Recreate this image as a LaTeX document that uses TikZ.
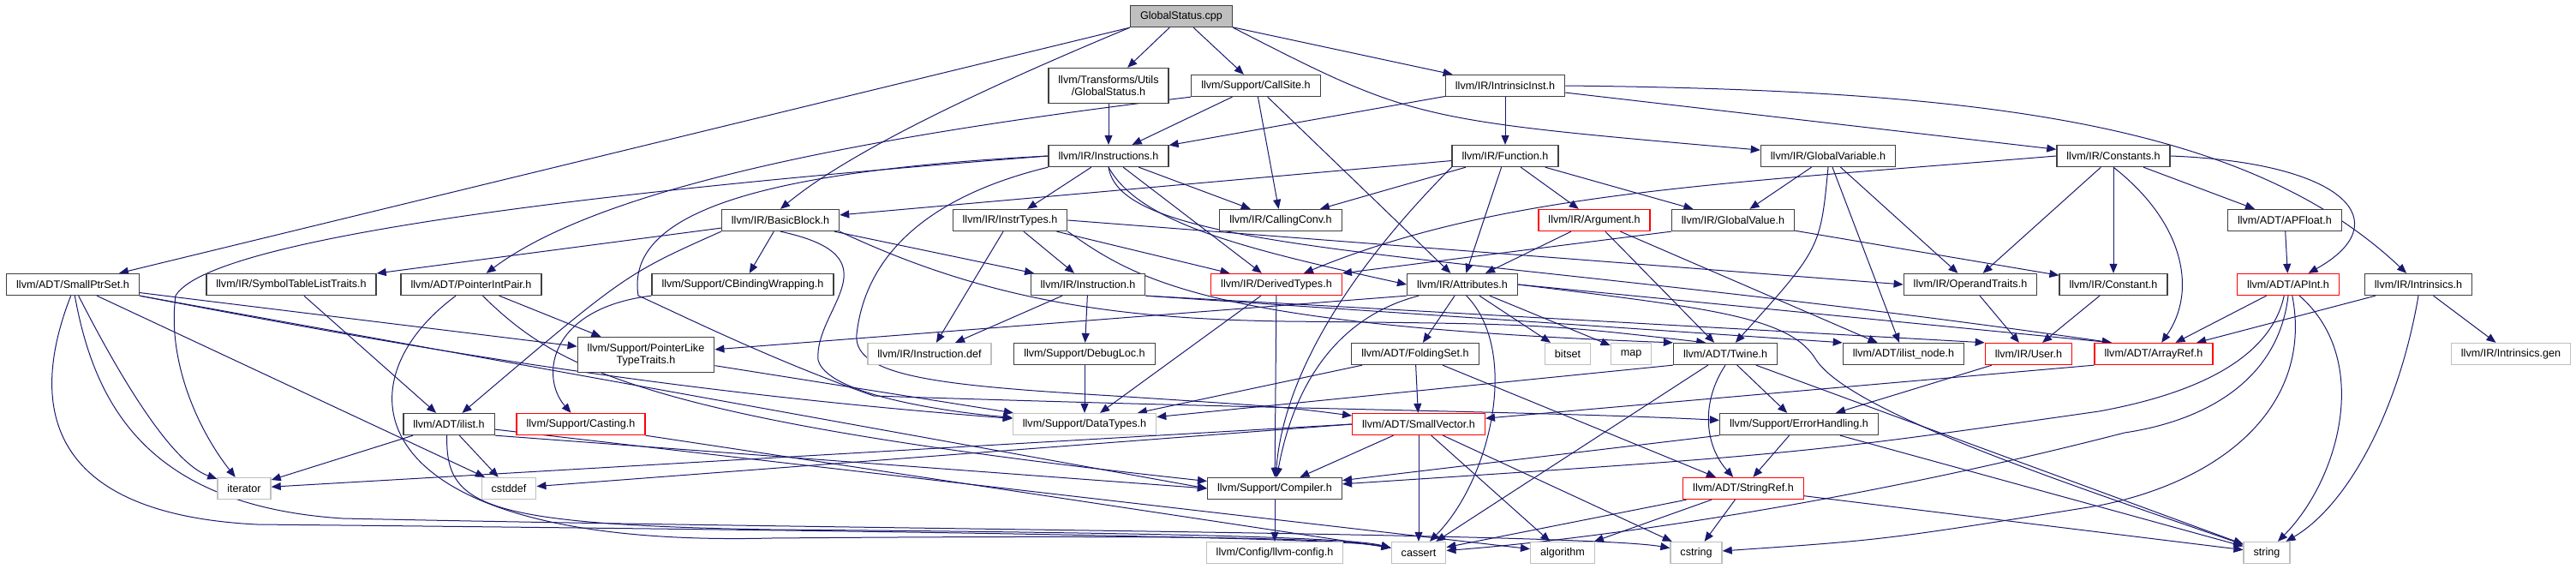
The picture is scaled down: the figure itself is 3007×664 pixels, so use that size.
\documentclass[tikz,border=0pt]{standalone}
\usepackage{fontspec}
\setmainfont{Liberation Sans}
\usepackage{tikz}
\usetikzlibrary{arrows.meta, backgrounds}
\definecolor{EdgeNavy}{RGB}{25,25,112}
\definecolor{BoxGray}{RGB}{191,191,191}
\definecolor{BoxRed}{RGB}{255,0,0}
\definecolor{BoxDark}{RGB}{64,64,64}

\begin{document}
\begin{tikzpicture}[x=1pt, y=-1pt, font=\fontsize{12.6}{14}\selectfont,
	hb/.style={rectangle, draw=BoxDark, line width=1.3pt, fill=white, inner xsep=11.5pt, inner ysep=0pt, minimum height=25pt, align=center},
	hr/.style={hb, draw=BoxRed},
	hs/.style={hb, draw=BoxGray},
	rt/.style={hb, fill=BoxGray},
	fl/.style={-{Triangle[length=11pt, width=9pt]}, draw=EdgeNavy, line width=1pt}]

	\useasboundingbox (0,0) rectangle (3007,664);

	\node[rt] (cpp) at (1379,19) {GlobalStatus.cpp};
	\node[hb, minimum height=41pt] (gsh) at (1294,100) {llvm/Transforms/Utils\\/GlobalStatus.h};
	\node[hb] (csite) at (1466,100) {llvm/Support/CallSite.h};
	\node[hb] (iinst) at (1757,100) {llvm/IR/IntrinsicInst.h};
	\node[hb] (instrs) at (1294,182) {llvm/IR/Instructions.h};
	\node[hb] (func) at (1757,182) {llvm/IR/Function.h};
	\node[hb] (gvar) at (2134,182) {llvm/IR/GlobalVariable.h};
	\node[hb] (consts) at (2467,182) {llvm/IR/Constants.h};
	\node[hb] (bb) at (911,257) {llvm/IR/BasicBlock.h};
	\node[hb] (itypes) at (1179,257) {llvm/IR/InstrTypes.h};
	\node[hb] (cconv) at (1495,257) {llvm/IR/CallingConv.h};
	\node[hr] (arg) at (1861,257) {llvm/IR/Argument.h};
	\node[hb] (gval) at (2023,257) {llvm/IR/GlobalValue.h};
	\node[hb] (apf) at (2667,257) {llvm/ADT/APFloat.h};
	\node[hb] (sps) at (85,332) {llvm/ADT/SmallPtrSet.h};
	\node[hb] (stlt) at (340,332) {llvm/IR/SymbolTableListTraits.h};
	\node[hb] (pip) at (550,332) {llvm/ADT/PointerIntPair.h};
	\node[hb] (cbw) at (867,332) {llvm/Support/CBindingWrapping.h};
	\node[hb] (inst) at (1270,332) {llvm/IR/Instruction.h};
	\node[hr] (dty) at (1490,332) {llvm/IR/DerivedTypes.h};
	\node[hb] (attr) at (1707,332) {llvm/IR/Attributes.h};
	\node[hb] (optr) at (2300,332) {llvm/IR/OperandTraits.h};
	\node[hb] (cnst) at (2467,332) {llvm/IR/Constant.h};
	\node[hr] (apint) at (2671,332) {llvm/ADT/APInt.h};
	\node[hb] (intr) at (2823,332) {llvm/IR/Intrinsics.h};
	\node[hb, minimum height=41pt] (plt) at (754,414) {llvm/Support/PointerLike\\TypeTraits.h};
	\node[hs] (idef) at (1085,413) {llvm/IR/Instruction.def};
	\node[hb] (dloc) at (1266,413) {llvm/Support/DebugLoc.h};
	\node[hb] (fset) at (1652,413) {llvm/ADT/FoldingSet.h};
	\node[hs] (bitset) at (1830,413) {bitset};
	\node[hs] (map) at (1904,413) {map};
	\node[hb] (twine) at (2014,413) {llvm/ADT/Twine.h};
	\node[hb] (inode) at (2222,413) {llvm/ADT/ilist\_node.h};
	\node[hr] (user) at (2368,413) {llvm/IR/User.h};
	\node[hr] (aref) at (2514,413) {llvm/ADT/ArrayRef.h};
	\node[hs] (igen) at (2931,413) {llvm/IR/Intrinsics.gen};
	\node[hb] (ilist) at (524,495) {llvm/ADT/ilist.h};
	\node[hr] (cast) at (678,495) {llvm/Support/Casting.h};
	\node[hs] (dtypes) at (1266,495) {llvm/Support/DataTypes.h};
	\node[hr] (svec) at (1656,495) {llvm/ADT/SmallVector.h};
	\node[hb] (eh) at (2100,495) {llvm/Support/ErrorHandling.h};
	\node[hs] (iter) at (285,570) {iterator};
	\node[hs] (cstddef) at (594,570) {cstddef};
	\node[hb] (comp) at (1488,570) {llvm/Support/Compiler.h};
	\node[hr] (sref) at (2035,570) {llvm/ADT/StringRef.h};
	\node[hs] (lcfg) at (1488,645) {llvm/Config/llvm-config.h};
	\node[hs] (cassert) at (1656,645) {cassert};
	\node[hs] (algo) at (1824,645) {algorithm};
	\node[hs] (cstring) at (1980,645) {cstring};
	\node[hs] (string) at (2646,645) {string};

	\begin{scope}[on background layer]
	\draw[fl] (cpp.south west)--(sps); \draw[fl] (cpp.south west) .. controls (1180,90) and (1000,170) .. (bb.north);
	\draw[fl] (cpp)--(gsh); \draw[fl] (cpp)--(csite); \draw[fl] (cpp)--(iinst);
	\draw[fl] (cpp.south east) .. controls (1650,140) .. (gvar);
	\draw[fl] (gsh)--(instrs);
	\draw[fl] (csite)--(instrs); \draw[fl] (csite)--(cconv); \draw[fl] (csite)--(attr);
	\draw[fl] (csite.south west) .. controls (1000,160) and (700,220) .. (pip);
	\draw[fl] (iinst)--(instrs); \draw[fl] (iinst)--(func); \draw[fl] (iinst)--(consts);
	\draw[fl] (iinst.east) .. controls (2300,105) and (2620,140) .. (intr);

	\draw[fl] (instrs)--(itypes); \draw[fl] (instrs)--(cconv); \draw[fl] (instrs)--(dty);
	\draw[fl] (instrs.south) .. controls (1330,260) and (1450,290) .. (attr.west);
	\draw[fl] (instrs.south) .. controls (1310,300) and (1700,290) .. (aref.165);
	\draw[fl] (instrs.west) .. controls (800,215) and (250,270) .. (205,345) .. controls (195,420) and (230,500) .. (iter);
	\draw[fl] (instrs.south west) .. controls (1080,230) and (1010,300) .. (1000,390) .. controls (995,440) and (1100,450) .. (1300,462) .. controls (1500,475) .. (svec);
	\draw[fl] (instrs.west) .. controls (880,200) and (730,250) .. (745,345) .. controls (790,365) and (900,420) .. (1020,462) .. controls (1500,478) and (1800,480) .. (eh);

	\draw[fl] (itypes)--(inst); \draw[fl] (itypes)--(idef); \draw[fl] (itypes)--(dty); \draw[fl] (itypes.east)--(optr.west);
	\draw[fl] (itypes.south east) .. controls (1330,330) and (1420,380) .. (twine.north west);
	\draw[fl] (inst)--(idef); \draw[fl] (inst)--(dloc);
	\draw[fl] (inst.south east)--(inode.north west); \draw[fl] (inst.south east)--(user.north west);

	\draw[fl] (bb)--(stlt); \draw[fl] (bb)--(cbw); \draw[fl] (bb)--(inst);
	\draw[fl] (bb.south west) .. controls (730,320) .. (ilist);
	\draw[fl] (bb.south east) .. controls (1150,350) and (1300,372) .. (1500,375) .. controls (1800,378) .. (twine.150);
	\draw[fl] (bb.south) .. controls (1050,300) and (950,360) .. (955,420) .. controls (965,460) and (1100,480) .. (dtypes);

	\draw[fl] (func)--(bb); \draw[fl] (func)--(cconv); \draw[fl] (func)--(attr); \draw[fl] (func)--(arg); \draw[fl] (func)--(gval);
	\draw[fl] (func.south west) .. controls (1600,290) and (1500,420) .. (comp);
	\draw[fl] (arg)--(attr); \draw[fl] (arg)--(twine); \draw[fl] (arg)--(inode);
	\draw[fl] (gvar)--(gval); \draw[fl] (gvar)--(optr); \draw[fl] (gvar)--(inode);
	\draw[fl] (gvar.south) .. controls (2125,290) .. (twine);
	\draw[fl] (gval.south west)--(dty.north east); \draw[fl] (gval)--(cnst);

	\draw[fl] (consts.west) .. controls (2000,215) and (1750,225) .. (dty);
	\draw[fl] (consts)--(optr); \draw[fl] (consts)--(cnst); \draw[fl] (consts)--(apf);
	\draw[fl] (consts.south) .. controls (2550,260) and (2565,340) .. (aref);
	\draw[fl] (consts.east) .. controls (2740,190) and (2800,260) .. (apint);
	\draw[fl] (apf)--(apint);
	\draw[fl] (apint)--(aref);
	\draw[fl] (apint.-110) .. controls (2650,420) and (2560,460) .. (2450,480) .. controls (2100,530) .. (comp);
	\draw[fl] (apint.-90) .. controls (2660,440) and (2580,490) .. (2480,505) .. controls (2150,590) and (1850,630) .. (cassert);
	\draw[fl] (apint.-70) .. controls (2700,470) and (2600,560) .. (2450,590) .. controls (2200,630) .. (cstring);
	\draw[fl] (apint.-45) .. controls (2770,420) and (2730,560) .. (string);
	\draw[fl] (intr)--(aref); \draw[fl] (intr)--(igen);
	\draw[fl] (intr.south) .. controls (2800,480) and (2740,590) .. (string);

	\draw[fl] (cnst)--(user); \draw[fl] (optr)--(user); \draw[fl] (user)--(eh);
	\draw[fl] (aref.south west)--(svec);
	\draw[fl] (twine.south west)--(dtypes); \draw[fl] (twine)--(cassert); \draw[fl] (twine)--(eh); \draw[fl] (twine)--(string);
	\draw[fl] (twine.south) .. controls (1985,470) and (1990,520) .. (sref);
	\draw[fl] (eh)--(sref); \draw[fl] (eh)--(string); \draw[fl] (eh.south west)--(comp);
	\draw[fl] (sref)--(cstring); \draw[fl] (sref)--(algo); \draw[fl] (sref)--(cassert); \draw[fl] (sref)--(string);
	\draw[fl] (svec)--(comp); \draw[fl] (svec)--(cassert); \draw[fl] (svec)--(algo); \draw[fl] (svec)--(cstring);
	\draw[fl] (svec.west)--(cstddef); \draw[fl] (svec.west)--(iter);
	\draw[fl] (fset)--(svec); \draw[fl] (fset)--(dtypes); \draw[fl] (fset)--(sref);

	\draw[fl] (attr)--(fset); \draw[fl] (attr)--(bitset); \draw[fl] (attr)--(map);
	\draw[fl] (attr.south west)--(plt); \draw[fl] (attr.east)--(aref.165);
	\draw[fl] (attr.-70) .. controls (1775,410) and (1740,560) .. (cassert);
	\draw[fl] (attr) .. controls (1560,370) and (1510,450) .. (comp);
	\draw[fl] (attr.east) .. controls (2000,360) and (2090,370) .. (2120,420) .. controls (2160,480) and (2400,560) .. (string);

	\draw[fl] (dty)--(dtypes); \draw[fl] (dty)--(comp);
	\draw[fl] (dloc)--(dtypes); \draw[fl] (plt)--(dtypes); \draw[fl] (comp)--(lcfg);
	\draw[fl] (cbw) .. controls (640,360) and (630,440) .. (cast);
	\draw[fl] (cast.south east)--(cassert.170);
	\draw[fl] (stlt)--(ilist);
	\draw[fl] (pip)--(plt);
	\draw[fl] (pip) .. controls (650,430) and (750,490) .. (comp);
	\draw[fl] (pip) .. controls (390,450) and (420,640) .. (900,628) .. controls (1400,624) and (1560,628) .. (cassert.170);

	\draw[fl] (ilist)--(cstddef); \draw[fl] (ilist)--(iter); \draw[fl] (ilist)--(algo); \draw[fl] (ilist.south east)--(comp.west);
	\draw[fl] (ilist.-100) .. controls (520,590) and (560,612) .. (900,618) .. controls (1400,622) and (1580,628) .. (cassert.170);

	\draw[fl] (sps)--(plt); \draw[fl] (sps)--(cstddef); \draw[fl] (sps.south east)--(comp.west);
	\draw[fl] (sps) .. controls (140,440) and (200,540) .. (iter);
	\draw[fl] (sps.south east) .. controls (450,400) and (750,455) .. (dtypes);
	\draw[fl] (sps.-100) .. controls (30,480) and (60,600) .. (300,612) .. controls (900,618) and (1560,626) .. (cassert.170);
	\draw[fl] (sps.-80) .. controls (110,470) and (170,590) .. (400,605) .. controls (1000,618) and (1850,622) .. (cstring.170);
	\end{scope}
\end{tikzpicture}
\end{document}
